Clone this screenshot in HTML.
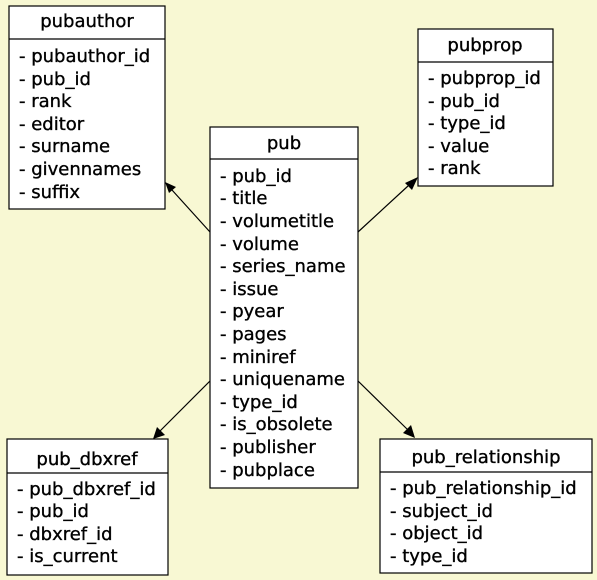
<!DOCTYPE html>
<html><head><meta charset="utf-8"><style>
html,body{margin:0;padding:0;background:#f8f8d3;}
svg{display:block;}
text{font-family:"DejaVu Sans","Liberation Sans",sans-serif;font-size:18px;fill:#000;stroke:#000;stroke-width:0.35px;}
</style></head><body>
<svg width="597" height="580" viewBox="0 0 597 580" xmlns="http://www.w3.org/2000/svg">
<rect width="597" height="580" fill="#f8f8d3"/>
<g stroke="#000" stroke-width="1.2" fill="#fff">
<rect x="9" y="6" width="156" height="203"/>
<line x1="9" y1="39" x2="165" y2="39"/>
<rect x="210" y="127" width="148" height="361"/>
<line x1="210" y1="159" x2="358" y2="159"/>
<rect x="418" y="29" width="135" height="157"/>
<line x1="418" y1="62" x2="553" y2="62"/>
<rect x="7" y="439" width="161" height="136"/>
<line x1="7" y1="473" x2="168" y2="473"/>
<rect x="380" y="439" width="212" height="134"/>
<line x1="380" y1="472" x2="592" y2="472"/>
</g>
<g stroke="#000" stroke-width="1.2">
<line x1="210" y1="232" x2="172" y2="190"/>
<line x1="358" y1="232" x2="408" y2="186"/>
<line x1="210" y1="381" x2="160" y2="431"/>
<line x1="358" y1="381" x2="408" y2="430"/>
</g>
<g fill="#000">
<polygon points="165,182 176,187 169,193"/>
<polygon points="418,177 405,183 412,190"/>
<polygon points="153,439 157,427 165,435"/>
<polygon points="415,438 403,433 411,425"/>
</g>
<text x="87" y="27" text-anchor="middle">pubauthor</text>
<text x="19" y="62">- pubauthor_id</text>
<text x="19" y="85">- pub_id</text>
<text x="19" y="107">- rank</text>
<text x="19" y="130">- editor</text>
<text x="19" y="152">- surname</text>
<text x="19" y="175">- givennames</text>
<text x="19" y="198">- suffix</text>
<text x="284" y="149" text-anchor="middle">pub</text>
<text x="220" y="182">- pub_id</text>
<text x="220" y="204">- title</text>
<text x="220" y="227">- volumetitle</text>
<text x="220" y="250">- volume</text>
<text x="220" y="272">- series_name</text>
<text x="220" y="295">- issue</text>
<text x="220" y="317">- pyear</text>
<text x="220" y="340">- pages</text>
<text x="220" y="363">- miniref</text>
<text x="220" y="385">- uniquename</text>
<text x="220" y="408">- type_id</text>
<text x="220" y="430">- is_obsolete</text>
<text x="220" y="453">- publisher</text>
<text x="220" y="476">- pubplace</text>
<text x="485" y="51" text-anchor="middle">pubprop</text>
<text x="428" y="84">- pubprop_id</text>
<text x="428" y="107">- pub_id</text>
<text x="428" y="129">- type_id</text>
<text x="428" y="152">- value</text>
<text x="428" y="174">- rank</text>
<text x="87" y="465" text-anchor="middle">pub_dbxref</text>
<text x="17" y="495">- pub_dbxref_id</text>
<text x="17" y="517">- pub_id</text>
<text x="17" y="540">- dbxref_id</text>
<text x="17" y="562">- is_current</text>
<text x="486" y="463" text-anchor="middle">pub_relationship</text>
<text x="390" y="494">- pub_relationship_id</text>
<text x="390" y="517">- subject_id</text>
<text x="390" y="539">- object_id</text>
<text x="390" y="562">- type_id</text>
</svg>
</body></html>
